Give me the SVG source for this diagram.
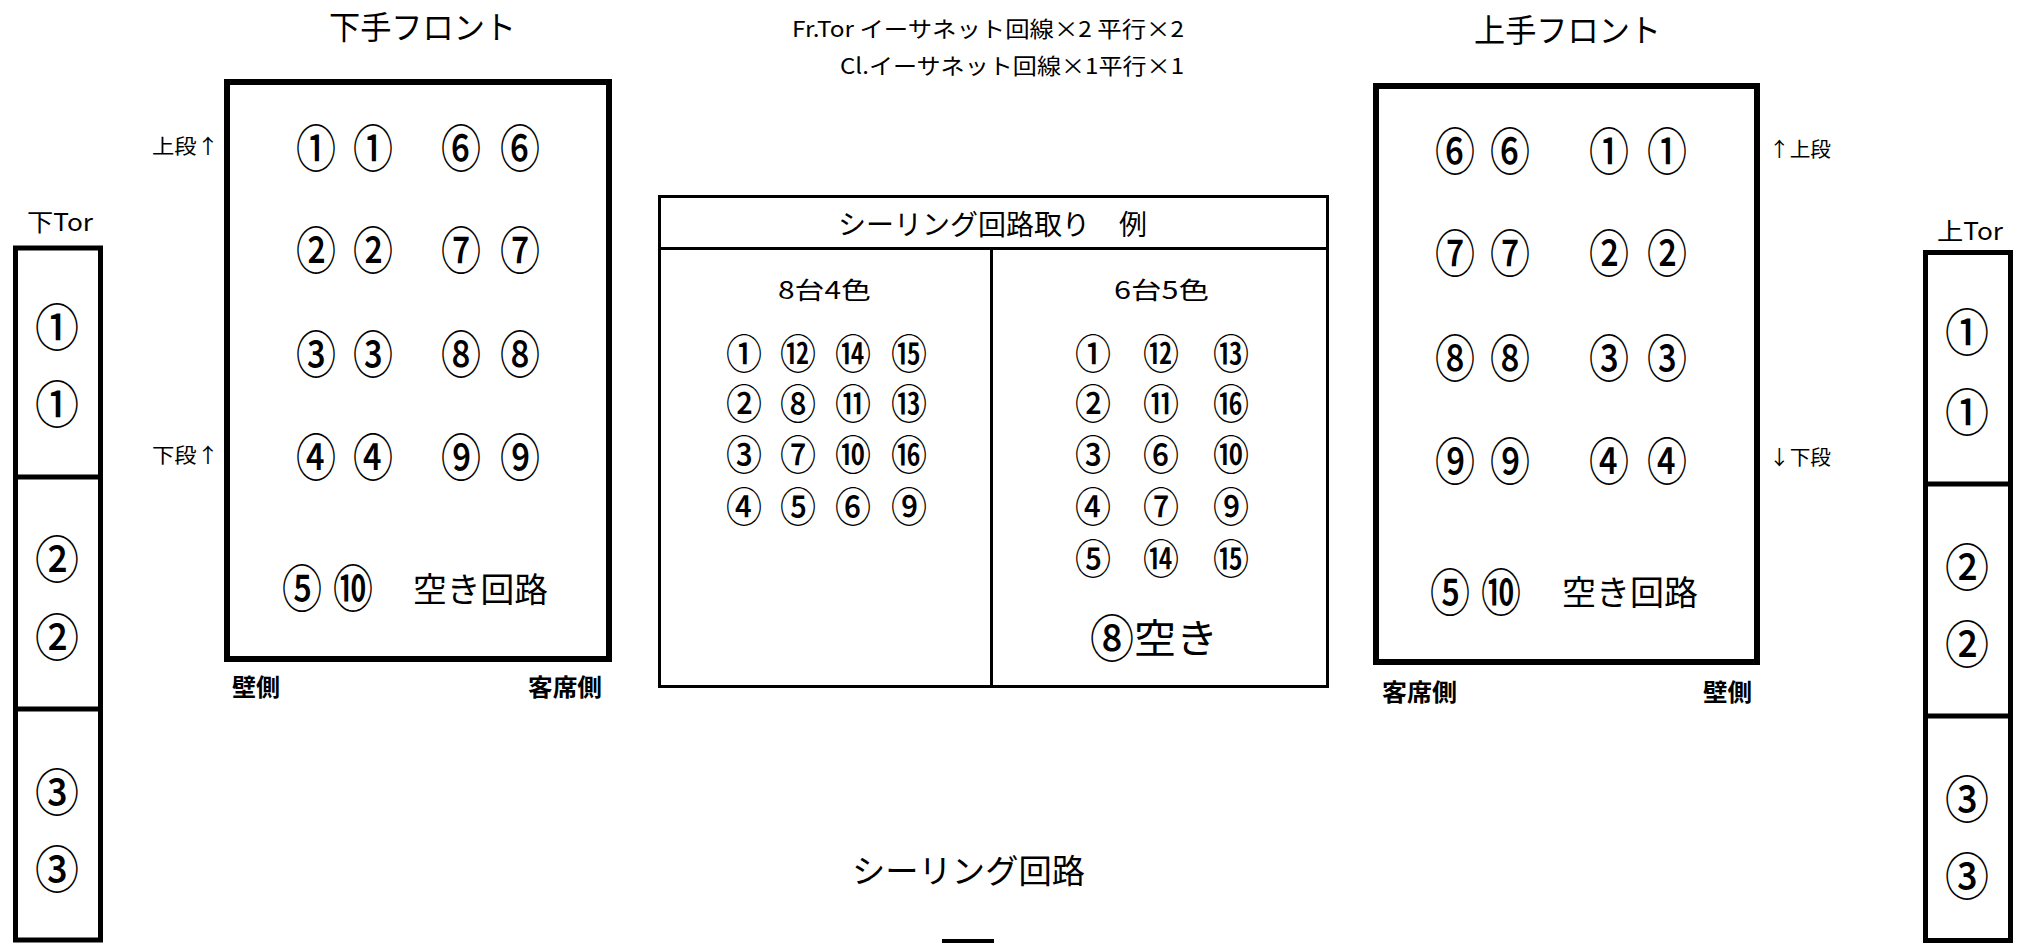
<svg xmlns="http://www.w3.org/2000/svg" width="2022" height="943" viewBox="0 0 2022 943">
<style>
text{font-family:"Noto Sans CJK JP","Noto Sans CJK SC",sans-serif;fill:#000;dominant-baseline:central}
.m{text-anchor:middle}
.cl{font-size:50px;font-weight:500}
.ct{font-size:50px;font-weight:500}
.cs text{font-family:"Liberation Sans","Noto Sans CJK JP",sans-serif;font-size:41px;font-weight:500}
.b6{fill:none;stroke:#000;stroke-width:6}
.b5{fill:none;stroke:#000;stroke-width:5}
.b3{fill:none;stroke:#000;stroke-width:3}
.ttl{font-size:32px}
.lab{font-size:24px;font-weight:700}
.side{font-size:20px}
.big{font-size:34px}
.note{font-size:22px}
.hd{font-size:28px}
.sub{font-size:24px}
</style>
<rect width="2022" height="943" fill="#fff"/>

<g id="title-left"><text x="329" y="25" class="ttl" textLength="187" lengthAdjust="spacingAndGlyphs">下手フロント</text></g>
<g id="title-right"><text x="1474" y="28" class="ttl" textLength="187" lengthAdjust="spacingAndGlyphs">上手フロント</text></g>

<g id="note">
<text x="792" y="27" class="note" textLength="392" lengthAdjust="spacingAndGlyphs">Fr.Tor イーサネット回線×2 平行×2</text>
<text x="840" y="64" class="note" textLength="344" lengthAdjust="spacingAndGlyphs">Cl.イーサネット回線×1平行×1</text>
</g>

<g id="front-left">
<rect class="b6" x="227" y="82" width="382" height="577"/>
<text x="152" y="145" class="side" textLength="67" lengthAdjust="spacingAndGlyphs">上段↑</text>
<text x="152" y="454" class="side" textLength="67" lengthAdjust="spacingAndGlyphs">下段↑</text>
<g class="cl">
<text class="m" x="316" y="145" textLength="40" lengthAdjust="spacingAndGlyphs">①</text>
<text class="m" x="373" y="145" textLength="40" lengthAdjust="spacingAndGlyphs">①</text>
<text class="m" x="461" y="145" textLength="40" lengthAdjust="spacingAndGlyphs">⑥</text>
<text class="m" x="520" y="145" textLength="40" lengthAdjust="spacingAndGlyphs">⑥</text>
<text class="m" x="316" y="247" textLength="40" lengthAdjust="spacingAndGlyphs">②</text>
<text class="m" x="373" y="247" textLength="40" lengthAdjust="spacingAndGlyphs">②</text>
<text class="m" x="461" y="247" textLength="40" lengthAdjust="spacingAndGlyphs">⑦</text>
<text class="m" x="520" y="247" textLength="40" lengthAdjust="spacingAndGlyphs">⑦</text>
<text class="m" x="316" y="351" textLength="40" lengthAdjust="spacingAndGlyphs">③</text>
<text class="m" x="373" y="351" textLength="40" lengthAdjust="spacingAndGlyphs">③</text>
<text class="m" x="461" y="351" textLength="40" lengthAdjust="spacingAndGlyphs">⑧</text>
<text class="m" x="520" y="351" textLength="40" lengthAdjust="spacingAndGlyphs">⑧</text>
<text class="m" x="316" y="454" textLength="40" lengthAdjust="spacingAndGlyphs">④</text>
<text class="m" x="373" y="454" textLength="40" lengthAdjust="spacingAndGlyphs">④</text>
<text class="m" x="461" y="454" textLength="40" lengthAdjust="spacingAndGlyphs">⑨</text>
<text class="m" x="520" y="454" textLength="40" lengthAdjust="spacingAndGlyphs">⑨</text>
<text class="m" x="302" y="585" textLength="40" lengthAdjust="spacingAndGlyphs">⑤</text>
<text class="m" x="353" y="585" textLength="40" lengthAdjust="spacingAndGlyphs">⑩</text>
</g>
<text x="413" y="587" class="big" textLength="135" lengthAdjust="spacingAndGlyphs">空き回路</text>
<text x="232" y="685" class="lab" textLength="48" lengthAdjust="spacingAndGlyphs">壁側</text>
<text x="528" y="685" class="lab" textLength="74" lengthAdjust="spacingAndGlyphs">客席側</text>
</g>

<g id="front-right">
<rect class="b6" x="1376" y="86" width="381" height="576"/>
<text x="1769" y="148" class="side" textLength="62" lengthAdjust="spacingAndGlyphs">↑上段</text>
<text x="1769" y="456" class="side" textLength="62" lengthAdjust="spacingAndGlyphs">↓下段</text>
<g class="cl">
<text class="m" x="1455" y="148" textLength="40" lengthAdjust="spacingAndGlyphs">⑥</text>
<text class="m" x="1510" y="148" textLength="40" lengthAdjust="spacingAndGlyphs">⑥</text>
<text class="m" x="1609" y="148" textLength="40" lengthAdjust="spacingAndGlyphs">①</text>
<text class="m" x="1667" y="148" textLength="40" lengthAdjust="spacingAndGlyphs">①</text>
<text class="m" x="1455" y="250" textLength="40" lengthAdjust="spacingAndGlyphs">⑦</text>
<text class="m" x="1510" y="250" textLength="40" lengthAdjust="spacingAndGlyphs">⑦</text>
<text class="m" x="1609" y="250" textLength="40" lengthAdjust="spacingAndGlyphs">②</text>
<text class="m" x="1667" y="250" textLength="40" lengthAdjust="spacingAndGlyphs">②</text>
<text class="m" x="1455" y="355" textLength="40" lengthAdjust="spacingAndGlyphs">⑧</text>
<text class="m" x="1510" y="355" textLength="40" lengthAdjust="spacingAndGlyphs">⑧</text>
<text class="m" x="1609" y="355" textLength="40" lengthAdjust="spacingAndGlyphs">③</text>
<text class="m" x="1667" y="355" textLength="40" lengthAdjust="spacingAndGlyphs">③</text>
<text class="m" x="1455" y="458" textLength="40" lengthAdjust="spacingAndGlyphs">⑨</text>
<text class="m" x="1510" y="458" textLength="40" lengthAdjust="spacingAndGlyphs">⑨</text>
<text class="m" x="1609" y="458" textLength="40" lengthAdjust="spacingAndGlyphs">④</text>
<text class="m" x="1667" y="458" textLength="40" lengthAdjust="spacingAndGlyphs">④</text>
<text class="m" x="1450" y="589" textLength="40" lengthAdjust="spacingAndGlyphs">⑤</text>
<text class="m" x="1501" y="589" textLength="40" lengthAdjust="spacingAndGlyphs">⑩</text>
</g>
<text x="1562" y="590" class="big" textLength="136" lengthAdjust="spacingAndGlyphs">空き回路</text>
<text x="1382" y="690" class="lab" textLength="75" lengthAdjust="spacingAndGlyphs">客席側</text>
<text x="1703" y="690" class="lab" textLength="49" lengthAdjust="spacingAndGlyphs">壁側</text>
</g>

<g id="tor-left">
<text x="27" y="220" class="sub" textLength="66" lengthAdjust="spacingAndGlyphs">下Tor</text>
<rect class="b5" x="15.5" y="248" width="85" height="692"/>
<line class="b5" x1="15.5" y1="477" x2="100.5" y2="477"/>
<line class="b5" x1="15.5" y1="709" x2="100.5" y2="709"/>
<g class="ct">
<text class="m" x="57" y="324" textLength="44" lengthAdjust="spacingAndGlyphs">①</text>
<text class="m" x="57" y="401" textLength="44" lengthAdjust="spacingAndGlyphs">①</text>
<text class="m" x="57" y="556" textLength="44" lengthAdjust="spacingAndGlyphs">②</text>
<text class="m" x="57" y="634" textLength="44" lengthAdjust="spacingAndGlyphs">②</text>
<text class="m" x="57" y="789" textLength="44" lengthAdjust="spacingAndGlyphs">③</text>
<text class="m" x="57" y="866" textLength="44" lengthAdjust="spacingAndGlyphs">③</text>
</g>
</g>

<g id="tor-right">
<text x="1937" y="229" class="sub" textLength="66" lengthAdjust="spacingAndGlyphs">上Tor</text>
<rect class="b5" x="1925.5" y="252.5" width="85" height="688"/>
<line class="b5" x1="1925.5" y1="484" x2="2010.5" y2="484"/>
<line class="b5" x1="1925.5" y1="716" x2="2010.5" y2="716"/>
<g class="ct">
<text class="m" x="1967" y="329" textLength="44" lengthAdjust="spacingAndGlyphs">①</text>
<text class="m" x="1967" y="409" textLength="44" lengthAdjust="spacingAndGlyphs">①</text>
<text class="m" x="1967" y="564" textLength="44" lengthAdjust="spacingAndGlyphs">②</text>
<text class="m" x="1967" y="641" textLength="44" lengthAdjust="spacingAndGlyphs">②</text>
<text class="m" x="1967" y="796" textLength="44" lengthAdjust="spacingAndGlyphs">③</text>
<text class="m" x="1967" y="873" textLength="44" lengthAdjust="spacingAndGlyphs">③</text>
</g>
</g>

<g id="example">
<rect class="b3" x="659.5" y="196.5" width="668" height="490"/>
<line class="b3" x1="659.5" y1="248.5" x2="1327.5" y2="248.5"/>
<line class="b3" x1="991.5" y1="248.5" x2="991.5" y2="686.5"/>
<text x="838" y="223" class="hd">シーリング回路取り <tspan x="1119">例</tspan></text>
<text x="778" y="288" class="sub" textLength="93" lengthAdjust="spacingAndGlyphs">8台4色</text>
<text x="1114" y="288" class="sub" textLength="95" lengthAdjust="spacingAndGlyphs">6台5色</text>
<g class="cs">
<text class="m" x="744" y="355" textLength="36" lengthAdjust="spacingAndGlyphs">①</text>
<text class="m" x="798" y="355" textLength="36" lengthAdjust="spacingAndGlyphs">⑫</text>
<text class="m" x="853" y="355" textLength="36" lengthAdjust="spacingAndGlyphs">⑭</text>
<text class="m" x="909" y="355" textLength="36" lengthAdjust="spacingAndGlyphs">⑮</text>
<text class="m" x="744" y="405" textLength="36" lengthAdjust="spacingAndGlyphs">②</text>
<text class="m" x="798" y="405" textLength="36" lengthAdjust="spacingAndGlyphs">⑧</text>
<text class="m" x="853" y="405" textLength="36" lengthAdjust="spacingAndGlyphs">⑪</text>
<text class="m" x="909" y="405" textLength="36" lengthAdjust="spacingAndGlyphs">⑬</text>
<text class="m" x="744" y="456" textLength="36" lengthAdjust="spacingAndGlyphs">③</text>
<text class="m" x="798" y="456" textLength="36" lengthAdjust="spacingAndGlyphs">⑦</text>
<text class="m" x="853" y="456" textLength="36" lengthAdjust="spacingAndGlyphs">⑩</text>
<text class="m" x="909" y="456" textLength="36" lengthAdjust="spacingAndGlyphs">⑯</text>
<text class="m" x="744" y="508" textLength="36" lengthAdjust="spacingAndGlyphs">④</text>
<text class="m" x="798" y="508" textLength="36" lengthAdjust="spacingAndGlyphs">⑤</text>
<text class="m" x="853" y="508" textLength="36" lengthAdjust="spacingAndGlyphs">⑥</text>
<text class="m" x="909" y="508" textLength="36" lengthAdjust="spacingAndGlyphs">⑨</text>
<text class="m" x="1093" y="355" textLength="36" lengthAdjust="spacingAndGlyphs">①</text>
<text class="m" x="1161" y="355" textLength="36" lengthAdjust="spacingAndGlyphs">⑫</text>
<text class="m" x="1231" y="355" textLength="36" lengthAdjust="spacingAndGlyphs">⑬</text>
<text class="m" x="1093" y="405" textLength="36" lengthAdjust="spacingAndGlyphs">②</text>
<text class="m" x="1161" y="405" textLength="36" lengthAdjust="spacingAndGlyphs">⑪</text>
<text class="m" x="1231" y="405" textLength="36" lengthAdjust="spacingAndGlyphs">⑯</text>
<text class="m" x="1093" y="456" textLength="36" lengthAdjust="spacingAndGlyphs">③</text>
<text class="m" x="1161" y="456" textLength="36" lengthAdjust="spacingAndGlyphs">⑥</text>
<text class="m" x="1231" y="456" textLength="36" lengthAdjust="spacingAndGlyphs">⑩</text>
<text class="m" x="1093" y="508" textLength="36" lengthAdjust="spacingAndGlyphs">④</text>
<text class="m" x="1161" y="508" textLength="36" lengthAdjust="spacingAndGlyphs">⑦</text>
<text class="m" x="1231" y="508" textLength="36" lengthAdjust="spacingAndGlyphs">⑨</text>
<text class="m" x="1093" y="560" textLength="36" lengthAdjust="spacingAndGlyphs">⑤</text>
<text class="m" x="1161" y="560" textLength="36" lengthAdjust="spacingAndGlyphs">⑭</text>
<text class="m" x="1231" y="560" textLength="36" lengthAdjust="spacingAndGlyphs">⑮</text>
</g>
<text class="m" x="1112" y="635" style="font-size:50px;font-weight:500" textLength="44" lengthAdjust="spacingAndGlyphs">⑧</text>
<text x="1134" y="636" style="font-size:40px" textLength="84" lengthAdjust="spacingAndGlyphs">空き</text>
</g>

<g id="bottom-label"><text x="852" y="869" style="font-size:33px" textLength="233" lengthAdjust="spacingAndGlyphs">シーリング回路</text></g>
<g id="bottom-box"><rect class="b5" x="944.5" y="941.5" width="47" height="20"/></g>
<g id="connectors"/>
</svg>
